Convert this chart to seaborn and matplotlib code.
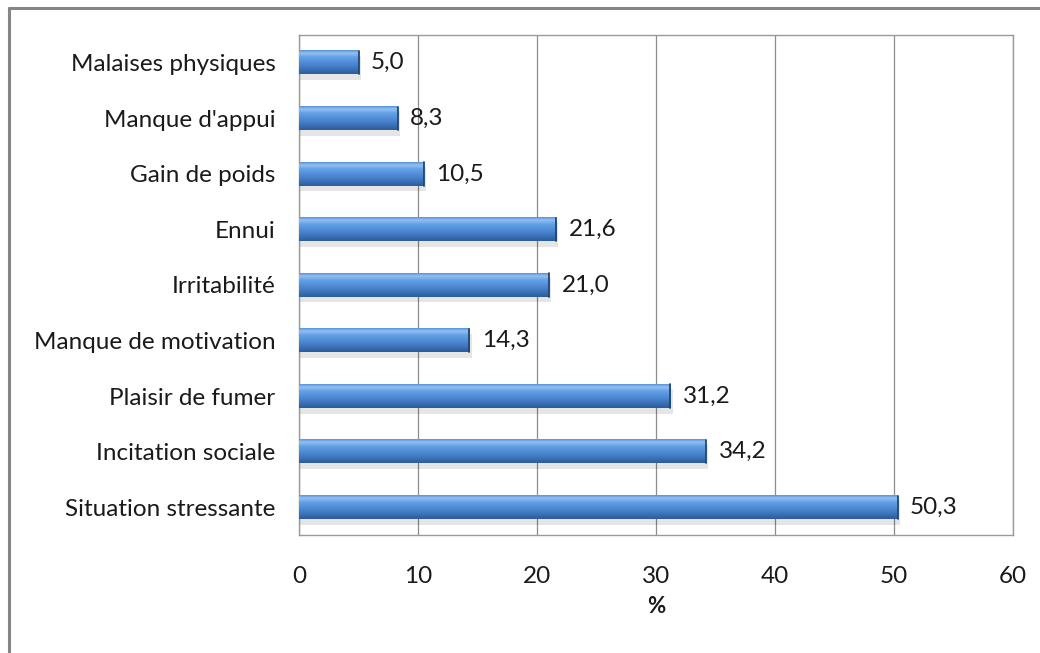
import numpy as np
import pandas as pd
import matplotlib
matplotlib.use("Agg")
import matplotlib.pyplot as plt
import seaborn as sns
from matplotlib.lines import Line2D
from matplotlib.colors import to_rgb

categories = ["Malaises physiques", "Manque d'appui", "Gain de poids", "Ennui",
              "Irritabilité", "Manque de motivation", "Plaisir de fumer",
              "Incitation sociale", "Situation stressante"]
values = [5.0, 8.3, 10.5, 21.6, 21.0, 14.3, 31.2, 34.2, 50.3]
xticks = [0, 10, 20, 30, 40, 50, 60]

df = pd.DataFrame({"cat": categories, "val": values})

sns.set_theme(style="white")
plt.rcParams['font.family'] = ['Lato', 'DejaVu Sans']

FS = 17.5
TXT = "#1A1A1A"

fig = plt.figure(figsize=(10.4, 6.53), dpi=100)
ax = fig.add_axes([299/1040, 1-535/653, (1013-299)/1040, (535-35)/653])

base = "#4A86D0"
sns.barplot(data=df, x="val", y="cat", orient="h", color=base, width=0.42,
            ax=ax, saturation=1, edgecolor="none", zorder=3)

# gradient + shadow overlay on each bar
stops = [(0.0, "#5C94DA"), (0.12, "#92C0F2"), (0.3, "#62A0E6"),
         (0.6, "#4A86D0"), (1.0, "#2C5C9C")]
n = 60
t = np.linspace(0, 1, n)
grad = np.zeros((n, 1, 3))
for i, tt in enumerate(t):
    for (a, ca), (b, cb) in zip(stops[:-1], stops[1:]):
        if a <= tt <= b:
            ca, cb = np.array(to_rgb(ca)), np.array(to_rgb(cb))
            grad[i, 0] = ca + (cb - ca) * ((tt - a) / (b - a))
            break

for p in list(ax.patches):
    x, y, w, h = p.get_x(), p.get_y(), p.get_width(), p.get_height()
    ax.add_patch(plt.Rectangle((x, y + h * 0.2), w + 0.2, h * 1.05,
                               facecolor="#000000", alpha=0.10, edgecolor="none",
                               zorder=2))
    ax.imshow(grad, extent=(x, x + w, y + h, y), aspect="auto", zorder=4,
              interpolation="bilinear")
    ax.add_line(Line2D([x + w, x + w], [y, y + h], color="#1F4675", lw=1.3, zorder=5))

ax.set_xlim(0, 60)
ax.set_ylim(len(categories) - 0.5, -0.5)

labels = [f"{v:.1f}".replace(".", ",") for v in values]
for i, (v, lab) in enumerate(zip(values, labels)):
    ax.annotate(lab, (v, i), xytext=(9, 0), textcoords="offset points",
                va="center", ha="left", fontsize=FS, color=TXT)

ax.set_xticks(xticks)
ax.set_xticklabels([str(t) for t in xticks], fontsize=FS, color=TXT)
ax.tick_params(axis="x", length=0, pad=22)
ax.tick_params(axis="y", length=0, pad=17, labelsize=FS, labelcolor=TXT)
ax.set_ylabel("")
ax.set_xlabel("%", fontsize=FS - 1.5, fontweight="bold", labelpad=7, color=TXT)

ax.grid(axis="x", color="#8C8C8C", linewidth=0.9, zorder=0)
ax.set_axisbelow(True)
for s in ax.spines.values():
    s.set_color("#9A9A9A")
    s.set_linewidth(1.0)
    s.set_visible(True)

fig.add_artist(Line2D([8.5/1040, 8.5/1040], [0, 1-7.5/653], color="#858585",
                      lw=2.2, transform=fig.transFigure))
fig.add_artist(Line2D([8.5/1040, 1], [1-7.5/653, 1-7.5/653], color="#858585",
                      lw=2.2, transform=fig.transFigure))

fig.savefig("out.png", dpi=100)
